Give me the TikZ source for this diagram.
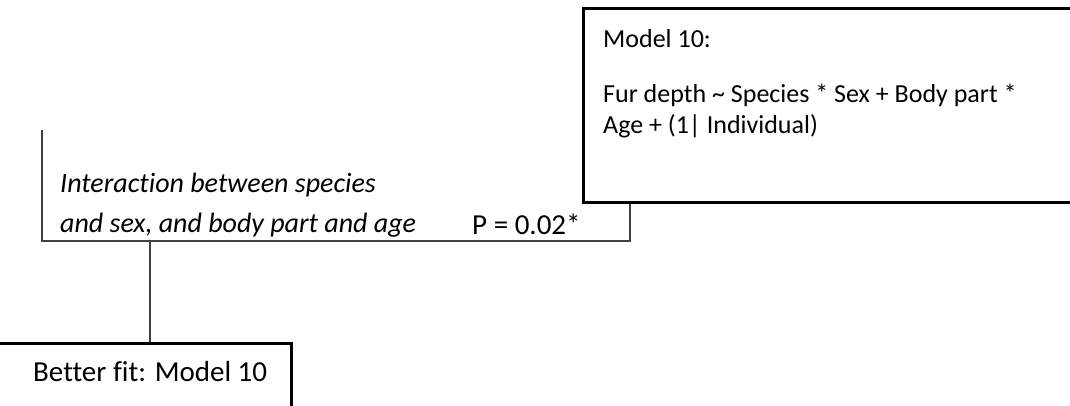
\documentclass[tikz,border=0pt]{standalone}
\usepackage{fontspec}
\setmainfont{Carlito}[Ligatures={NoCommon}]
\begin{document}
\begin{tikzpicture}[x=1pt,y=-1pt,
  box/.style={draw=black, line width=2.6pt, inner sep=0pt, anchor=north west},
  link/.style={draw=black!75, line width=1.3pt},
  txt/.style={inner sep=0pt, anchor=base west, font=\fontsize{26}{31}\selectfont},
  bigtxt/.style={txt, font=\fontsize{29}{34}\selectfont},
  itxt/.style={txt, font=\fontsize{28}{33}\selectfont\itshape}]
\useasboundingbox (0,0) rectangle (1070,405);
\clip (0,0) rectangle (1070,405);

% model box, running off the right edge
\node[box, minimum width=520pt, minimum height=194pt] (model) at (582,7) {};
\node[txt] (mtitle) at (603,47) {Model 10:};
\node[txt] (mline1) at (603,102) {Fur depth \textasciitilde{} Species * Sex + Body part *};
\node[txt] (mline2) at (603,133) {Age + (1| Individual)};

% result box, running off the left and bottom edges
\node[box, minimum width=310pt, minimum height=70pt] (fit) at (-20,342) {};
\node[bigtxt] (fittext) at (33,381) {Better fit: Model 10};

% comparison bracket
\coordinate (brtop) at (42,130);
\coordinate (brleft) at (42,241);
\coordinate (brright) at (630,241);
\coordinate (stem) at (150,241);
\draw[link] (brtop) -- (brleft) -- (brright) -- (model.south -| brright);
\draw[link] (stem) -- (fit.north -| stem);

\node[itxt] (inter1) at (60,192) {Interaction between species};
\node[itxt] (inter2) at (60,232) {and sex, and body part and age};
\node[bigtxt] (pval) at (472,234) {P = 0.02*};
\end{tikzpicture}
\end{document}
